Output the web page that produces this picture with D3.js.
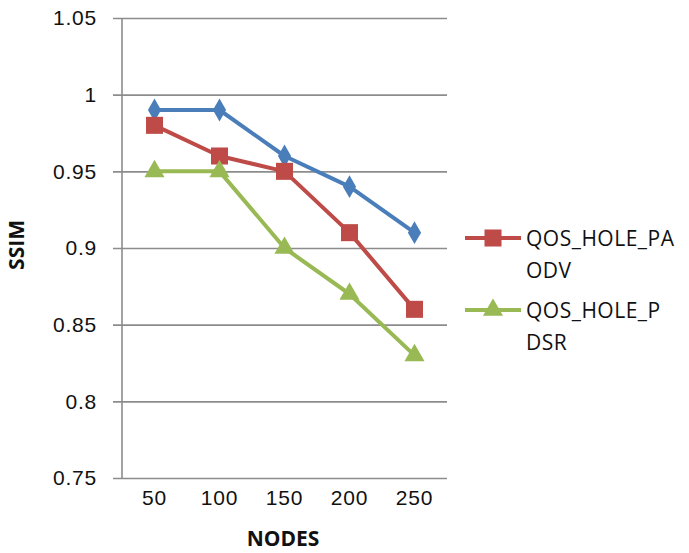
<!DOCTYPE html>
<html>
<head>
<meta charset="utf-8">
<script src="https://cdn.jsdelivr.net/npm/d3@7"></script>
<style>
  html, body { margin: 0; padding: 0; background: #fff; }
  svg { display: block; font-family: "Open Sans", "Liberation Sans", sans-serif; }
</style>
</head>
<body>
<svg id="chart" width="689" height="553"></svg>
<script>
// Node counts on the x axis
const nodes = ["50", "100", "150", "200", "250"];
// SSIM per routing scheme
const ssimBlue = [0.99, 0.99, 0.96, 0.94, 0.91];
const ssimPaodv = [0.98, 0.96, 0.95, 0.91, 0.86];
const ssimPdsr = [0.95, 0.95, 0.90, 0.87, 0.83];
const yTicks = [0.75, 0.8, 0.85, 0.9, 0.95, 1, 1.05];
const legendLabels = [["QOS_HOLE_PA", "ODV"], ["QOS_HOLE_P", "DSR"]];

const series = [
  { values: ssimBlue, color: "#4a7ebb", symbol: d3.symbolDiamond, size: 150, legend: null },
  { values: ssimPaodv, color: "#be4b48", symbol: d3.symbolSquare, size: 290, legend: legendLabels[0] },
  { values: ssimPdsr, color: "#98b954", symbol: d3.symbolTriangle, size: 175, legend: legendLabels[1] }
];

const svg = d3.select("#chart");
const plotLeft = 122, plotRight = 447, plotTop = 18, plotBottom = 478;

const x = d3.scaleBand().domain(nodes).range([plotLeft, plotRight]);
const y = d3.scaleLinear().domain([0.75, 1.05]).range([plotBottom, plotTop]);

// Horizontal gridlines with small outward ticks
const yAxis = d3.axisLeft(y).tickValues(yTicks)
  .tickFormat(d => String(+d.toFixed(2)))
  .tickSize(-(plotRight - plotLeft)).tickPadding(25);
const gy = svg.append("g").attr("transform", `translate(${plotLeft},0)`).call(yAxis);
gy.select(".domain").remove();
gy.selectAll(".tick line").attr("x1", -9).attr("stroke", "#8c8c8c").attr("stroke-width", 1.6);
gy.selectAll(".tick text").attr("font-size", 21).attr("letter-spacing", 0.8).attr("fill", "#111");

// Vertical axis line
svg.append("line").attr("x1", plotLeft).attr("x2", plotLeft).attr("y1", plotTop).attr("y2", plotBottom)
  .attr("stroke", "#8c8c8c").attr("stroke-width", 1.6);

// Category labels
const xAxis = d3.axisBottom(x).tickSize(0).tickPadding(12);
const gx = svg.append("g").attr("transform", `translate(0,${plotBottom})`).call(xAxis);
gx.select(".domain").remove();
gx.selectAll(".tick text").attr("font-size", 21).attr("letter-spacing", 0.8).attr("fill", "#111");

// Axis titles
svg.append("text").attr("x", 283).attr("y", 546)
  .attr("text-anchor", "middle").attr("font-size", 21).attr("font-weight", "bold").attr("fill", "#111")
  .text("NODES");
svg.append("text").attr("transform", `translate(24,245) rotate(-90)`)
  .attr("text-anchor", "middle").attr("font-size", 21).attr("font-weight", "bold").attr("fill", "#111")
  .text("SSIM");

const cx = d => x(d) + x.bandwidth() / 2;
const line = d3.line().x((d, i) => cx(nodes[i])).y(d => y(d));

series.forEach(s => {
  svg.append("path").datum(s.values).attr("d", line)
    .attr("fill", "none").attr("stroke", s.color).attr("stroke-width", 4)
    .attr("stroke-linejoin", "round");
  svg.selectAll(null).data(s.values).enter().append("path")
    .attr("d", d3.symbol().type(s.symbol).size(s.size))
    .attr("transform", (d, i) => `translate(${cx(nodes[i])},${y(d)})`)
    .attr("fill", s.color);
});

// Legend
const legendRows = series.filter(s => s.legend);
legendRows.forEach((s, i) => {
  const ly = 238 + i * 72;
  svg.append("line").attr("x1", 465).attr("x2", 521).attr("y1", ly).attr("y2", ly)
    .attr("stroke", s.color).attr("stroke-width", 4);
  svg.append("path").attr("d", d3.symbol().type(s.symbol).size(s.size)())
    .attr("transform", `translate(493,${ly})`).attr("fill", s.color);
  const t = svg.append("text").attr("x", 526).attr("y", ly + 8)
    .attr("font-size", 21).attr("letter-spacing", 0.5).attr("fill", "#111");
  s.legend.forEach((part, j) => {
    t.append("tspan").attr("x", 526).attr("dy", j === 0 ? 0 : 32).text(part);
  });
});
</script>
</body>
</html>
